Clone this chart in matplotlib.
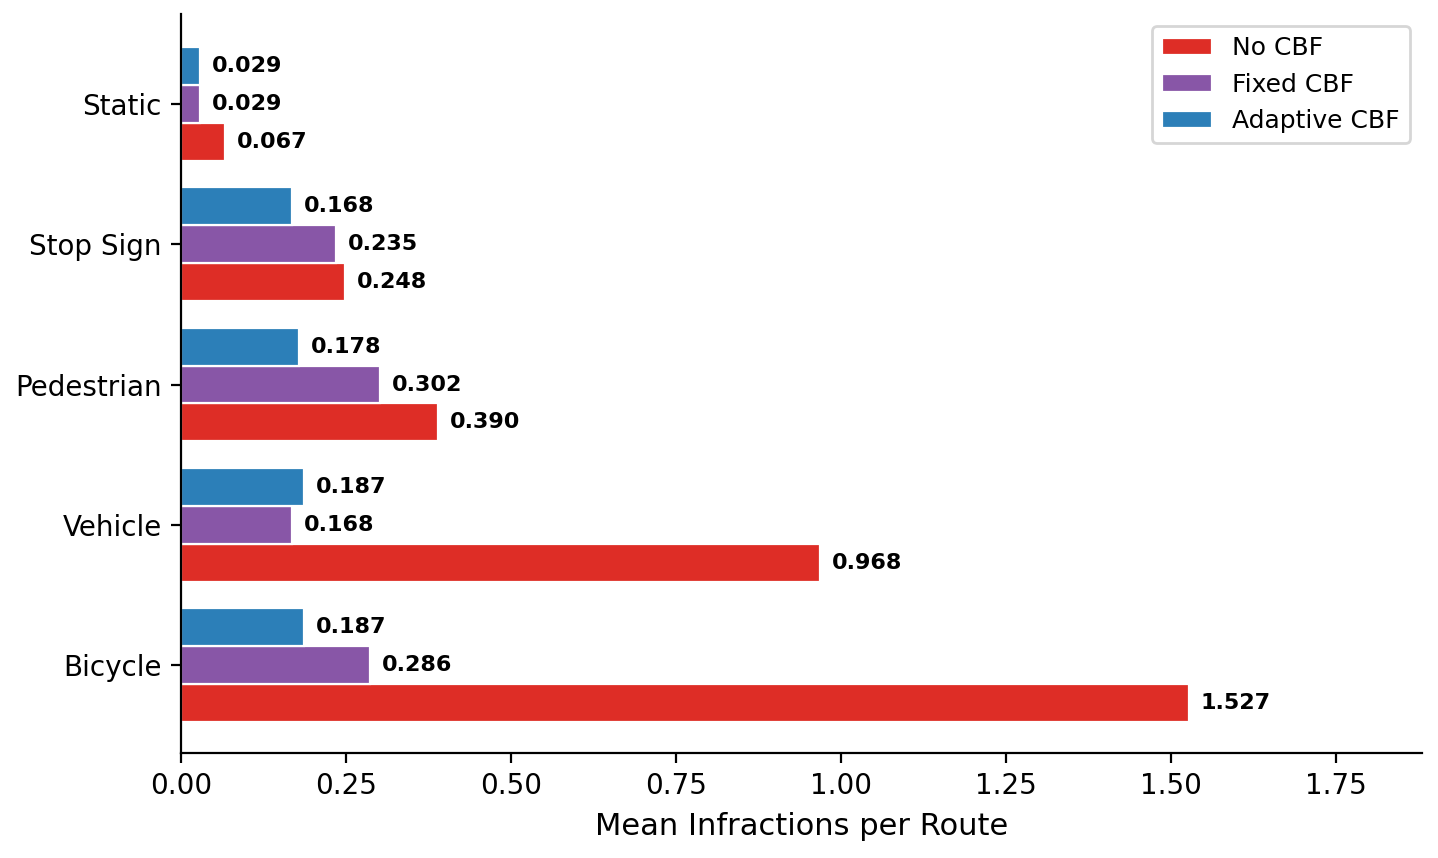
import matplotlib
matplotlib.use("Agg")
import matplotlib.pyplot as plt
import numpy as np

categories = ["Bicycle", "Vehicle", "Pedestrian", "Stop Sign", "Static"]
no_cbf = [1.527, 0.968, 0.390, 0.248, 0.067]
fixed_cbf = [0.286, 0.168, 0.302, 0.235, 0.029]
adaptive_cbf = [0.187, 0.187, 0.178, 0.168, 0.029]
series_names = ["No CBF", "Fixed CBF", "Adaptive CBF"]
colors = ["#de2d26", "#8856a7", "#2c7fb8"]

fig, ax = plt.subplots(figsize=(7.19, 4.29), dpi=200)
y = np.arange(len(categories))
h = 0.27
offsets = [-h, 0, h]
for vals, name, c, off in zip([no_cbf, fixed_cbf, adaptive_cbf], series_names, colors, offsets):
    bars = ax.barh(y + off, vals, height=h, color=c, edgecolor="white", linewidth=0.8, label=name)
    for b, v in zip(bars, vals):
        ax.text(b.get_width() + 0.018, b.get_y() + b.get_height() / 2, f"{v:.3f}",
                va="center", ha="left", fontsize=8, fontweight="bold")

ax.set_yticks(y)
ax.set_yticklabels(categories, fontsize=10)
ax.tick_params(axis="x", labelsize=10)
ax.set_xlabel("Mean Infractions per Route", fontsize=11)
ax.set_xlim(0, 1.88)
ax.set_ylim(-0.627, 4.642)
ax.spines["top"].set_visible(False)
ax.spines["right"].set_visible(False)
ax.legend(loc="upper right", fontsize=9)
fig.subplots_adjust(left=0.1259, right=0.9889, top=0.9837, bottom=0.1224)
plt.savefig("out.png", dpi=200)
